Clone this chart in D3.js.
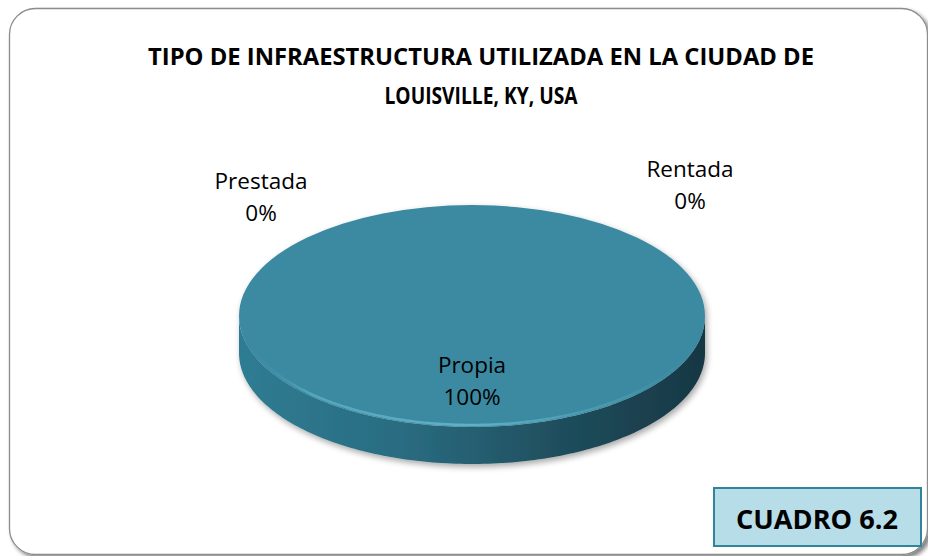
<!DOCTYPE html>
<html>
<head>
<meta charset="utf-8">
<script src="https://cdn.jsdelivr.net/npm/d3@7"></script>
<style>
	body { margin: 0; background: #fff; }
	svg { display: block; }
	text { font-family: "Open Sans", "Noto Sans", sans-serif; }
</style>
</head>
<body>
<svg id="chart" width="928" height="556"></svg>
<script>
// data
const categories = ['Propia', 'Prestada', 'Rentada'];
const values = [100, 0, 0];
const titleLines = ['TIPO DE INFRAESTRUCTURA UTILIZADA EN LA CIUDAD DE', 'LOUISVILLE, KY, USA'];
const badgeText = 'CUADRO 6.2';

const W = 928, H = 556;
const svg = d3.select('#chart');
const defs = svg.append('defs');

const cfg = {
	cx: 472, cy: 316,
	rx: 233, ry: 111,
	depth: 37
};

// outer frame shadow + frame
const shadow = defs.append('filter').attr('id', 'frameShadow')
	.attr('x', '-5%').attr('y', '-5%').attr('width', '110%').attr('height', '110%');
shadow.append('feGaussianBlur').attr('in', 'SourceAlpha').attr('stdDeviation', 2);
shadow.append('feOffset').attr('dx', 3).attr('dy', 3).attr('result', 'off');
shadow.append('feComponentTransfer').append('feFuncA').attr('type', 'linear').attr('slope', 0.5);
const fm = shadow.append('feMerge');
fm.append('feMergeNode');
fm.append('feMergeNode').attr('in', 'SourceGraphic');

svg.append('rect')
	.attr('x', 9.5).attr('y', 8.5)
	.attr('width', 918).attr('height', 546)
	.attr('rx', 26).attr('ry', 26)
	.attr('fill', '#fff')
	.attr('stroke', '#8c8c8c')
	.attr('stroke-width', 1.3)
	.attr('filter', 'url(#frameShadow)');

// title
const title = svg.append('g').attr('font-weight', 'bold').attr('fill', '#000');
title.selectAll('text')
	.data(titleLines)
	.enter()
	.append('text')
		.attr('x', 481)
		.attr('y', (d, i) => 65 + i * 39)
		.attr('text-anchor', 'middle')
		.attr('font-size', 23)
		.attr('textLength', (d, i) => i === 0 ? 666 : 193)
		.attr('lengthAdjust', 'spacingAndGlyphs')
		.text(d => d);

// pie
const pie = d3.pie().sort(null).value(d => d);
const arcs = pie(values);
const arc = d3.arc().innerRadius(0).outerRadius(cfg.rx);
const k = cfg.ry / cfg.rx;

const sideGrad = defs.append('linearGradient').attr('id', 'sideGrad')
	.attr('x1', 0).attr('x2', 1).attr('y1', 0).attr('y2', 0);
[[0, '#2f7c93'], [0.35, '#2a6c81'], [0.7, '#1f4d5c'], [1, '#173743']].forEach(s => {
	sideGrad.append('stop').attr('offset', s[0]).attr('stop-color', s[1]);
});

const pieShadow = defs.append('filter').attr('id', 'pieShadow')
	.attr('x', '-10%').attr('y', '-10%').attr('width', '120%').attr('height', '130%');
pieShadow.append('feGaussianBlur').attr('in', 'SourceAlpha').attr('stdDeviation', 3);
pieShadow.append('feOffset').attr('dx', 2).attr('dy', 3).attr('result', 'off');
pieShadow.append('feComponentTransfer').append('feFuncA').attr('type', 'linear').attr('slope', 0.35);
const pm = pieShadow.append('feMerge');
pm.append('feMergeNode');
pm.append('feMergeNode').attr('in', 'SourceGraphic');

const pieG = svg.append('g')
	.attr('transform', `translate(${cfg.cx},${cfg.cy})`)
	.attr('filter', 'url(#pieShadow)');

// side wall (front half of each visible slice)
function sidePath (d) {
	const a0 = Math.max(d.startAngle, Math.PI / 2);
	const a1 = Math.min(d.endAngle, 3 * Math.PI / 2);
	if (a1 <= a0) return null;
	const pts = d3.range(a0, a1 + 0.001, 0.02).map(a => [cfg.rx * Math.sin(a), -cfg.ry * Math.cos(a)]);
	const bottom = pts.slice().reverse().map(p => [p[0], p[1] + cfg.depth]);
	return 'M' + pts.concat(bottom).map(p => p.join(',')).join('L') + 'Z';
}

pieG.selectAll('path.side')
	.data(arcs.filter(d => d.value > 0))
	.enter()
	.append('path')
		.attr('class', 'side')
		.attr('d', sidePath)
		.attr('fill', 'url(#sideGrad)');

pieG.selectAll('path.top')
	.data(arcs.filter(d => d.value > 0))
	.enter()
	.append('path')
		.attr('class', 'top')
		.attr('transform', `scale(1,${k})`)
		.attr('d', arc)
		.attr('fill', '#3a8aa1');

// rim highlight on the front edge
const rimGrad = defs.append('linearGradient').attr('id', 'rimGrad')
	.attr('x1', 0).attr('x2', 1).attr('y1', 0).attr('y2', 0);
[[0, '#3a8aa1', 0], [0.15, '#5aaec4', 0.8], [0.5, '#64b6cb', 0.9], [0.85, '#4c9cb2', 0.6], [1, '#3a8aa1', 0]].forEach(s => {
	rimGrad.append('stop').attr('offset', s[0]).attr('stop-color', s[1]).attr('stop-opacity', s[2]);
});
const rimPts = d3.range(Math.PI / 2, 3 * Math.PI / 2 + 0.001, 0.02)
	.map(a => [(cfg.rx - 3) * Math.sin(a), -(cfg.ry - 2) * Math.cos(a)]);
pieG.append('path')
	.attr('d', d3.line()(rimPts))
	.attr('fill', 'none')
	.attr('stroke', 'url(#rimGrad)')
	.attr('stroke-width', 2.5);

// labels
const labelPos = d => {
	if (d.value > 0) {
		return [0, 0.51 * cfg.ry];
	}
	// zero slices sit at the slice boundary on top, pushed outside
	const a = d.startAngle;
	const x = cfg.rx * Math.sin(a), y = -cfg.ry * Math.cos(a);
	return d.index === 1 ? [x - 211, y - 16] : [x + 218, y - 28];
};

const lbl = svg.append('g')
	.attr('transform', `translate(${cfg.cx},${cfg.cy})`)
	.attr('font-size', 22.5)
	.attr('fill', '#000');

arcs.forEach(d => {
	const p = labelPos(d);
	const t = lbl.append('text')
		.attr('text-anchor', 'middle')
		.attr('x', p[0]).attr('y', p[1]);
	t.append('tspan').attr('x', p[0]).attr('dy', 0).text(categories[d.index]);
	t.append('tspan').attr('x', p[0]).attr('dy', 32).text(d3.format('.0%')(d.value / d3.sum(values)));
});

// badge
svg.append('rect')
	.attr('x', 714).attr('y', 488)
	.attr('width', 207).attr('height', 58)
	.attr('fill', '#b7dde8')
	.attr('stroke', '#31849b')
	.attr('stroke-width', 2);
svg.append('text')
	.attr('x', 817).attr('y', 529)
	.attr('text-anchor', 'middle')
	.attr('font-size', 27)
	.attr('font-weight', 'bold')
	.attr('textLength', 162)
	.attr('lengthAdjust', 'spacingAndGlyphs')
	.text(badgeText);
</script>
</body>
</html>
